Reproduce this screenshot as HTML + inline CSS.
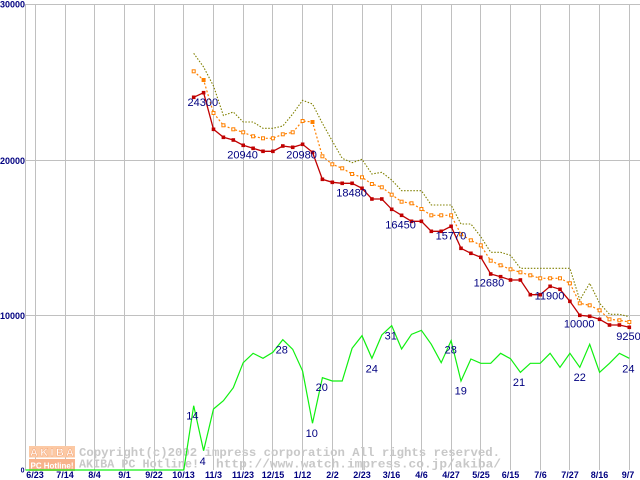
<!DOCTYPE html>
<html><head><meta charset="utf-8"><style>
html,body{margin:0;padding:0;background:#fff;}
svg{display:block;}
.v{font-family:"Liberation Sans",sans-serif;font-size:11px;fill:#000080;}
.ax{font-family:"Liberation Sans",sans-serif;font-size:9px;font-weight:bold;fill:#000080;}
.cp{font-family:"Liberation Mono",monospace;font-size:12px;font-weight:bold;fill:#c8c8c8;}
</style></head><body>
<svg width="640" height="480" viewBox="0 0 640 480" xmlns="http://www.w3.org/2000/svg">
<rect width="640" height="480" fill="#fff"/>
<g stroke="#c0c0c0" stroke-width="1" fill="none">
<path d="M25.5 4V470 M35.5 4V470 M65.5 4V470 M94.5 4V470 M124.5 4V470 M154.5 4V470 M183.5 4V470 M213.5 4V470 M243.5 4V470 M272.5 4V470 M302.5 4V470 M332.5 4V470 M362.5 4V470 M391.5 4V470 M421.5 4V470 M451.5 4V470 M480.5 4V470 M510.5 4V470 M540.5 4V470 M569.5 4V470 M599.5 4V470 M629.5 4V470"/>
<path d="M25 4.5H640 M25 160.5H640 M25 315.5H640"/>
</g>
<!-- logo & copyright -->
<rect x="29" y="446" width="46" height="11.5" fill="#fcc9a4"/>
<text x="30" y="456" font-family="Liberation Sans,sans-serif" font-weight="bold" font-size="11" fill="#fff" stroke="#f4a070" stroke-width="0.4" textLength="44" lengthAdjust="spacing">AKIBA</text>
<rect x="29" y="459" width="46" height="12" fill="#f8b38c"/>
<text x="30.5" y="468.5" font-family="Liberation Sans,sans-serif" font-weight="bold" font-size="8.5" fill="#fff" textLength="43" lengthAdjust="spacingAndGlyphs">PC Hotline!</text>
<text class="cp" x="79" y="456" textLength="421" lengthAdjust="spacingAndGlyphs">Copyright(c)2002 impress corporation All rights reserved.</text>
<text class="cp" x="79" y="467.5" textLength="120" lengthAdjust="spacingAndGlyphs">AKIBA PC Hotline!</text>
<text class="cp" x="216" y="467.5" textLength="285" lengthAdjust="spacingAndGlyphs">http://www.watch.impress.co.jp/akiba/</text>

<!-- green count -->
<polyline fill="none" stroke="#10f010" stroke-width="1.2" points="25.5,470 183.8,470 193.7,405.7 203.6,450.7 213.5,409 223.4,400.7 233.3,387.7 243.2,362.7 253.1,353.3 263,358.3 272.9,352.3 282.8,339.7 292.7,349.3 302.6,371 312.5,423.3 322.4,377.7 332.3,381 342.2,381 352.1,348.3 362,335.7 371.9,358.3 381.8,335 391.7,325.7 401.6,349 411.5,334.3 421.4,330.3 431.3,344.3 441.2,362.7 451.1,340.7 461,381 470.9,359 480.8,363.3 490.7,363.3 500.6,353.3 510.5,358.7 520.4,372.3 530.3,363.3 540.2,363.3 550.1,353.3 560,367.3 569.9,353.3 579.8,367.3 589.7,344.3 599.6,372.3 609.5,363.3 619.4,353.3 629.3,358.3"/>

<!-- olive -->
<polyline fill="none" stroke="#808000" stroke-width="1.1" stroke-dasharray="1.5 1.6" points="193.7,53.3 203.6,67 213.5,86 223.4,115.5 233.3,112 243.2,122 253.1,122 263,128.3 272.9,128.3 282.8,126 292.7,114 302.6,100.3 312.5,104 322.4,123.3 332.3,141 342.2,158.3 352.1,162.7 362,159.3 371.9,174 381.8,172.3 391.7,180 401.6,190.7 411.5,190.7 421.4,190.7 431.3,205 441.2,205 451.1,205 461,224 470.9,224 480.8,236.7 490.7,252.3 500.6,252.3 510.5,255.3 520.4,268.3 530.3,268.3 540.2,268.3 550.1,268.3 560,268.3 569.9,268.3 579.8,300 589.7,283.3 599.6,303.3 609.5,314.3 619.4,314.3 629.3,316.7"/>

<!-- orange -->
<polyline fill="none" stroke="#ff8000" stroke-width="1.2" stroke-dasharray="2 2" points="193.7,71.3 203.6,80 213.5,113 223.4,125.3 233.3,129.3 243.2,132.3 253.1,136.3 263,138.3 272.9,138.3 282.8,134.3 292.7,132.3 302.6,121 312.5,122 322.4,156.3 332.3,164.3 342.2,168.3 352.1,174 362,177.3 371.9,184 381.8,187.3 391.7,194.7 401.6,201.7 411.5,203.3 421.4,209 431.3,215.3 441.2,215.3 451.1,215.3 461,234.3 470.9,240.3 480.8,245.3 490.7,260.7 500.6,265.3 510.5,269.3 520.4,272.3 530.3,275.3 540.2,278.3 550.1,278.3 560,278.3 569.9,283.3 579.8,303.3 589.7,305.3 599.6,310.3 609.5,319.3 619.4,320.3 629.3,322"/>
<g fill="#fff" stroke="#ff8000" stroke-width="1">
<rect x="192.2" y="69.8" width="3" height="3"/><rect x="202.1" y="78.5" width="3" height="3" fill="#ff8000"/><rect x="212" y="111.5" width="3" height="3"/><rect x="221.9" y="123.8" width="3" height="3"/><rect x="231.8" y="127.8" width="3" height="3"/><rect x="241.7" y="130.8" width="3" height="3"/><rect x="251.6" y="134.8" width="3" height="3"/><rect x="261.5" y="136.8" width="3" height="3"/><rect x="271.4" y="136.8" width="3" height="3"/><rect x="281.3" y="132.8" width="3" height="3"/><rect x="291.2" y="130.8" width="3" height="3"/><rect x="301.1" y="119.5" width="3" height="3"/><rect x="311" y="120.5" width="3" height="3" fill="#ff8000"/><rect x="320.9" y="154.8" width="3" height="3"/><rect x="330.8" y="162.8" width="3" height="3"/><rect x="340.7" y="166.8" width="3" height="3"/><rect x="350.6" y="172.5" width="3" height="3"/><rect x="360.5" y="175.8" width="3" height="3"/><rect x="370.4" y="182.5" width="3" height="3"/><rect x="380.3" y="185.8" width="3" height="3"/><rect x="390.2" y="193.2" width="3" height="3"/><rect x="400.1" y="200.2" width="3" height="3"/><rect x="410" y="201.8" width="3" height="3"/><rect x="419.9" y="207.5" width="3" height="3"/><rect x="429.8" y="213.8" width="3" height="3"/><rect x="439.7" y="213.8" width="3" height="3"/><rect x="449.6" y="213.8" width="3" height="3"/><rect x="459.5" y="232.8" width="3" height="3"/><rect x="469.4" y="238.8" width="3" height="3"/><rect x="479.3" y="243.8" width="3" height="3"/><rect x="489.2" y="259.2" width="3" height="3"/><rect x="499.1" y="263.8" width="3" height="3"/><rect x="509" y="267.8" width="3" height="3"/><rect x="518.9" y="270.8" width="3" height="3"/><rect x="528.8" y="273.8" width="3" height="3"/><rect x="538.7" y="276.8" width="3" height="3"/><rect x="548.6" y="276.8" width="3" height="3"/><rect x="558.5" y="276.8" width="3" height="3"/><rect x="568.4" y="281.8" width="3" height="3"/><rect x="578.3" y="301.8" width="3" height="3"/><rect x="588.2" y="303.8" width="3" height="3"/><rect x="598.1" y="308.8" width="3" height="3"/><rect x="608" y="317.8" width="3" height="3"/><rect x="617.9" y="318.8" width="3" height="3"/><rect x="627.8" y="320.5" width="3" height="3"/>
</g>

<!-- red -->
<polyline fill="none" stroke="#c00000" stroke-width="1.3" points="193.7,97.3 203.6,92.7 213.5,129.3 223.4,137.3 233.3,140 243.2,145.3 253.1,148.3 263,151.3 272.9,151.3 282.8,146 292.7,147.3 302.6,144.3 312.5,152.3 322.4,179.3 332.3,182.3 342.2,183.3 352.1,183.3 362,188.3 371.9,199 381.8,199 391.7,209.3 401.6,215.3 411.5,221.3 421.4,221.3 431.3,231.3 441.2,231.3 451.1,226.3 461,248.3 470.9,253.3 480.8,257.3 490.7,274 500.6,276.7 510.5,280 520.4,280 530.3,294.7 540.2,294.7 550.1,286.3 560,289.3 569.9,301.3 579.8,315.3 589.7,316.3 599.6,319.3 609.5,325 619.4,325 629.3,327.3"/>
<g fill="#c00000">
<rect x="191.9" y="95.5" width="3.6" height="3.6"/><rect x="201.8" y="90.9" width="3.6" height="3.6"/><rect x="211.7" y="127.5" width="3.6" height="3.6"/><rect x="221.6" y="135.5" width="3.6" height="3.6"/><rect x="231.5" y="138.2" width="3.6" height="3.6"/><rect x="241.4" y="143.5" width="3.6" height="3.6"/><rect x="251.3" y="146.5" width="3.6" height="3.6"/><rect x="261.2" y="149.5" width="3.6" height="3.6"/><rect x="271.1" y="149.5" width="3.6" height="3.6"/><rect x="281" y="144.2" width="3.6" height="3.6"/><rect x="290.9" y="145.5" width="3.6" height="3.6"/><rect x="300.8" y="142.5" width="3.6" height="3.6"/><rect x="310.7" y="150.5" width="3.6" height="3.6"/><rect x="320.6" y="177.5" width="3.6" height="3.6"/><rect x="330.5" y="180.5" width="3.6" height="3.6"/><rect x="340.4" y="181.5" width="3.6" height="3.6"/><rect x="350.3" y="181.5" width="3.6" height="3.6"/><rect x="360.2" y="186.5" width="3.6" height="3.6"/><rect x="370.1" y="197.2" width="3.6" height="3.6"/><rect x="380" y="197.2" width="3.6" height="3.6"/><rect x="389.9" y="207.5" width="3.6" height="3.6"/><rect x="399.8" y="213.5" width="3.6" height="3.6"/><rect x="409.7" y="219.5" width="3.6" height="3.6"/><rect x="419.6" y="219.5" width="3.6" height="3.6"/><rect x="429.5" y="229.5" width="3.6" height="3.6"/><rect x="439.4" y="229.5" width="3.6" height="3.6"/><rect x="449.3" y="224.5" width="3.6" height="3.6"/><rect x="459.2" y="246.5" width="3.6" height="3.6"/><rect x="469.1" y="251.5" width="3.6" height="3.6"/><rect x="479" y="255.5" width="3.6" height="3.6"/><rect x="488.9" y="272.2" width="3.6" height="3.6"/><rect x="498.8" y="274.9" width="3.6" height="3.6"/><rect x="508.7" y="278.2" width="3.6" height="3.6"/><rect x="518.6" y="278.2" width="3.6" height="3.6"/><rect x="528.5" y="292.9" width="3.6" height="3.6"/><rect x="538.4" y="292.9" width="3.6" height="3.6"/><rect x="548.3" y="284.5" width="3.6" height="3.6"/><rect x="558.2" y="287.5" width="3.6" height="3.6"/><rect x="568.1" y="299.5" width="3.6" height="3.6"/><rect x="578" y="313.5" width="3.6" height="3.6"/><rect x="587.9" y="314.5" width="3.6" height="3.6"/><rect x="597.8" y="317.5" width="3.6" height="3.6"/><rect x="607.7" y="323.2" width="3.6" height="3.6"/><rect x="617.6" y="323.2" width="3.6" height="3.6"/><rect x="627.5" y="325.5" width="3.6" height="3.6"/>
</g>

<!-- value labels -->
<g class="v">
<text x="187.5" y="106">24300</text>
<text x="227.3" y="158.3">20940</text>
<text x="286.3" y="158.3">20980</text>
<text x="336.3" y="196.7">18480</text>
<text x="385.3" y="228.3">16450</text>
<text x="435.6" y="239.3">15770</text>
<text x="473.6" y="286.7">12680</text>
<text x="534.6" y="299.3">11900</text>
<text x="563.9" y="327.3">10000</text>
<text x="616.3" y="340">9250</text>
<text x="186.3" y="419.3">14</text>
<text x="199.6" y="465">4</text>
<text x="275.6" y="353.3">28</text>
<text x="315.6" y="391">20</text>
<text x="305.6" y="437">10</text>
<text x="365.6" y="372.7">24</text>
<text x="384.6" y="339.3">31</text>
<text x="444.6" y="353.3">28</text>
<text x="454.6" y="394.3">19</text>
<text x="512.9" y="386">21</text>
<text x="573.6" y="381">22</text>
<text x="622.3" y="372.7">24</text>
</g>

<!-- axis labels -->
<g class="ax" text-anchor="end">
<text x="25" y="7.5">30000</text>
<text x="25" y="163.8">20000</text>
<text x="25" y="318.8">10000</text>
<text x="24.5" y="472.5" font-size="7">0</text>
</g>
<g class="ax" text-anchor="middle">
<text x="35" y="478">6/23</text>
<text x="65" y="478">7/14</text>
<text x="94.5" y="478">8/4</text>
<text x="124.5" y="478">9/1</text>
<text x="154" y="478">9/22</text>
<text x="183.5" y="478">10/13</text>
<text x="213.5" y="478">11/3</text>
<text x="243" y="478">11/23</text>
<text x="273" y="478">12/15</text>
<text x="302.5" y="478">1/12</text>
<text x="332.5" y="478">2/2</text>
<text x="362" y="478">2/23</text>
<text x="391.5" y="478">3/16</text>
<text x="421.5" y="478">4/6</text>
<text x="451" y="478">4/27</text>
<text x="481" y="478">5/25</text>
<text x="510.5" y="478">6/15</text>
<text x="540.5" y="478">7/6</text>
<text x="570" y="478">7/27</text>
<text x="599.5" y="478">8/16</text>
<text x="628" y="478">9/7</text>
</g>
</svg>
</body></html>
